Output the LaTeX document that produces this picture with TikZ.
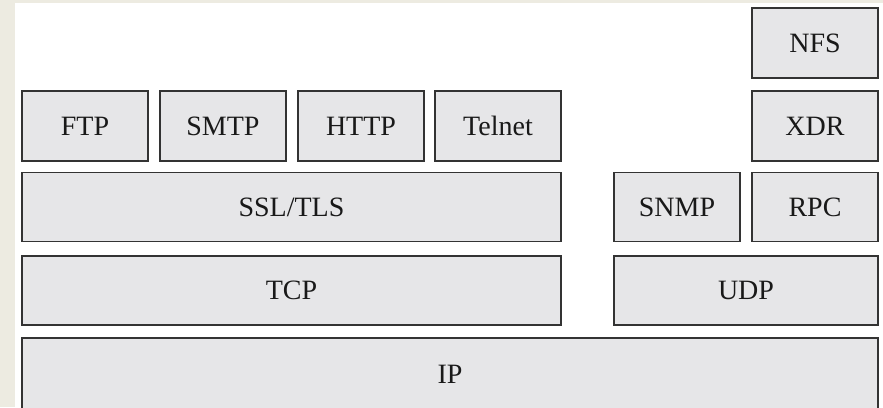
\documentclass[tikz,border=0pt]{standalone}
\usepackage{fontspec}
\setmainfont{Liberation Serif}
\usepackage{xcolor}
\usepackage{tikz}
\usetikzlibrary{positioning}

\definecolor{pagebeige}{HTML}{EDEBE1}
\definecolor{boxgray}{HTML}{E6E6E8}
\definecolor{boxline}{HTML}{333333}

\begin{document}
\begin{tikzpicture}[x=1pt, y=-1pt,
    layer/.style={rectangle, draw=boxline, line width=1.7pt, fill=boxgray, inner sep=0pt, outer sep=0pt,
        minimum width=126.5pt, minimum height=70.5pt, font=\fontsize{28}{30}\selectfont, text=black!90},
    wide/.style={layer, minimum width=539.5pt, minimum height=69pt}
]
    % Canvas and margins
    \useasboundingbox (0,0) rectangle (883,407);
    \clip (0,0) rectangle (883,407);
    \fill[pagebeige] (0,0) rectangle (883,407);
    \fill[white] (15,3) rectangle (883,407);

    % Application layer
    \node[layer] (ftp) at (85,126) {FTP};
    \node[layer] (smtp) at (223,126) {SMTP};
    \node[layer] (http) at (361,126) {HTTP};
    \node[layer] (telnet) at (498,126) {Telnet};

    % Security layer
    \node[wide] (ssl) at (291.5,207) {SSL/TLS};

    % Transport (TCP)
    \node[wide] (tcp) at (291.5,290.5) {TCP};

    % RPC stack
    \node[layer] (nfs) at (815,43) {NFS};
    \node[layer] (xdr) at (815,126) {XDR};
    \node[layer, minimum height=69pt] (snmp) at (677,207) {SNMP};
    \node[layer, minimum height=69pt] (rpc) at (815,207) {RPC};

    % Transport (UDP)
    \node[layer, minimum width=264.5pt, minimum height=69pt] (udp) at (746,290.5) {UDP};

    % Network layer (runs off the bottom edge)
    \node[layer, minimum width=856.5pt, minimum height=73pt] (ip) at (450,374.5) {IP};
\end{tikzpicture}
\end{document}
